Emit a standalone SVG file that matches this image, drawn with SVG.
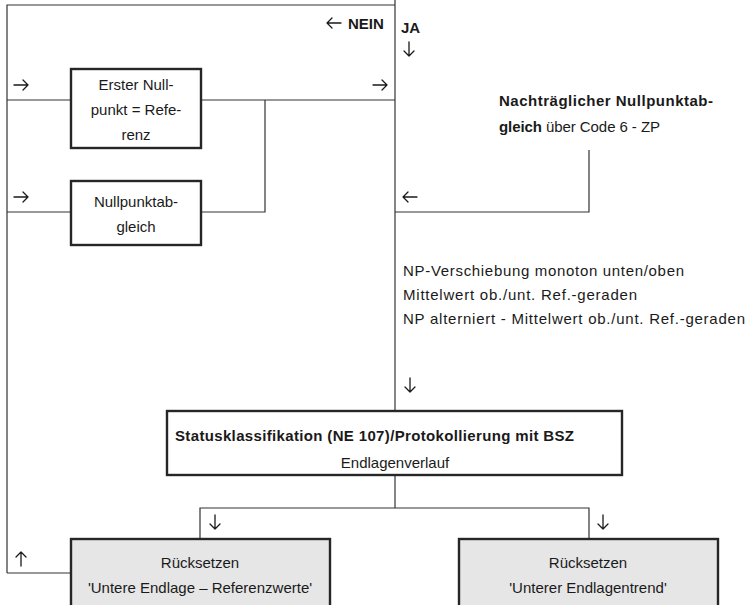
<svg xmlns="http://www.w3.org/2000/svg" width="749" height="605" viewBox="0 0 749 605">
<style>
text{font-family:"Liberation Sans",Arial,sans-serif;font-size:15px;fill:#1a1a1a}
.b{font-weight:bold}
.c{text-anchor:middle}
.ln{fill:none;stroke:#333;stroke-width:1.2}
.ar{fill:none;stroke:#1a1a1a;stroke-width:1.3;stroke-linecap:round;stroke-linejoin:round}
.box{fill:#fff;stroke:#262626;stroke-width:2.4}
.gray{fill:#e6e6e6;stroke:#262626;stroke-width:2.4}
</style>
<defs>
<path id="aR" class="ar" d="M-7,0 H7 M2,-5 L7,0 L2,5"/>
<path id="aL" class="ar" d="M7,0 H-7 M-2,-5 L-7,0 L-2,5"/>
<path id="aD" class="ar" d="M0,-7 V7 M-5,2 L0,7 L5,2"/>
<path id="aU" class="ar" d="M0,7 V-7 M-5,-2 L0,-7 L5,-2"/>
</defs>
<rect width="749" height="605" fill="#fff"/>
<g id="connectors">
<polyline class="ln" points="7,573 7,5 395,5"/>
<line class="ln" x1="395" y1="0" x2="395" y2="411"/>
<line class="ln" x1="7" y1="100" x2="395" y2="100"/>
<polyline class="ln" points="7,212 71,212"/>
<polyline class="ln" points="201,212 265,212 265,100"/>
<polyline class="ln" points="395,212 589,212 589,150"/>
<line class="ln" x1="395" y1="475" x2="395" y2="508"/>
<polyline class="ln" points="200,539 200,508 589,508 589,539"/>
<line class="ln" x1="7" y1="573" x2="71" y2="573"/>
<use href="#aR" x="21" y="85"/>
<use href="#aR" x="380" y="85"/>
<use href="#aR" x="21" y="197"/>
<use href="#aL" x="410" y="197"/>
<use href="#aL" x="334" y="23"/>
<use href="#aD" x="409" y="49"/>
<use href="#aD" x="410" y="385"/>
<use href="#aD" x="215" y="522"/>
<use href="#aD" x="603" y="522"/>
<use href="#aU" x="21" y="559"/>
<text class="b" x="348" y="29">NEIN</text>
<text class="b" x="401" y="33">JA</text>
</g>
<g id="erster">
<rect class="box" x="71" y="69" width="130" height="79"/>
<text class="c" x="136" y="90">Erster Null-</text>
<text class="c" x="136" y="115">punkt = Refe-</text>
<text class="c" x="136" y="140">renz</text>
</g>
<g id="nullpunktabgleich">
<rect class="box" x="71" y="181" width="130" height="64"/>
<text class="c" x="136" y="207">Nullpunktab-</text>
<text class="c" x="136" y="232">gleich</text>
</g>
<g id="nachtraeglich">
<text class="b" x="499" y="106" textLength="214">Nachträglicher Nullpunktab-</text>
<text x="499" y="132" textLength="161"><tspan class="b">gleich</tspan> über Code 6 - ZP</text>
</g>
<g id="np-text">
<text x="403" y="276" textLength="281">NP-Verschiebung monoton unten/oben</text>
<text x="403" y="300" textLength="234">Mittelwert ob./unt. Ref.-geraden</text>
<text x="403" y="324" textLength="342">NP alterniert - Mittelwert ob./unt. Ref.-geraden</text>
</g>
<g id="status">
<rect class="box" x="167" y="411" width="455" height="64"/>
<text class="b" x="175" y="441" textLength="399">Statusklassifikation (NE 107)/Protokollierung mit BSZ</text>
<text class="c" x="395" y="468">Endlagenverlauf</text>
</g>
<g id="ruecksetzen-ref">
<rect class="gray" x="71" y="539" width="259" height="68"/>
<text class="c" x="200" y="568">Rücksetzen</text>
<text class="c" x="200" y="593">'Untere Endlage – Referenzwerte'</text>
</g>
<g id="ruecksetzen-trend">
<rect class="gray" x="459" y="539" width="259" height="68"/>
<text class="c" x="588" y="568">Rücksetzen</text>
<text class="c" x="588" y="593">'Unterer Endlagentrend'</text>
</g>
</svg>
